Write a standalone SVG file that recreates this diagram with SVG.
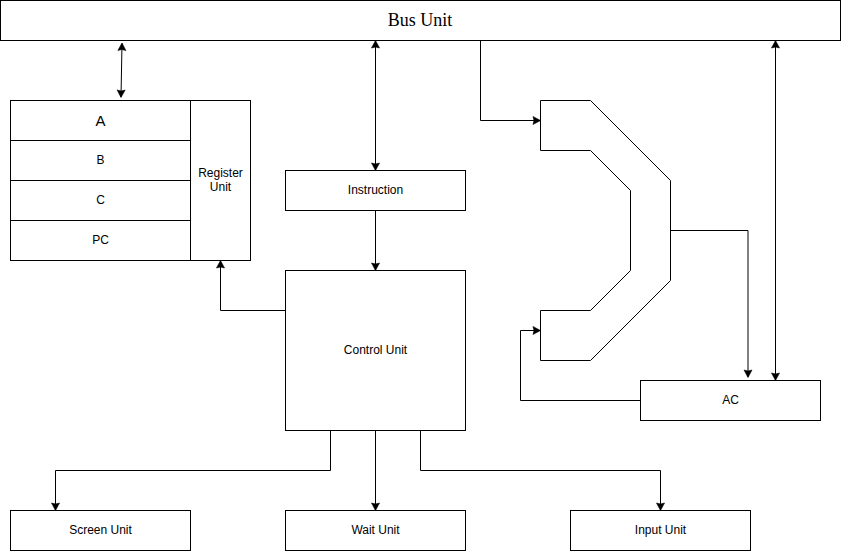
<svg xmlns="http://www.w3.org/2000/svg" width="841" height="551" viewBox="0 0 841 551">
<defs>
<style>
.box{fill:#fff;stroke:#000;stroke-width:1}
.t{font-family:"Liberation Sans",Arial,sans-serif;font-size:12px;fill:#000;text-anchor:middle;dominant-baseline:central}
.e{fill:none;stroke:#000;stroke-width:1}
</style>
<marker id="ah" markerUnits="userSpaceOnUse" viewBox="-10 -6 12 12" refX="0" refY="0" markerWidth="12" markerHeight="12" orient="auto-start-reverse">
<path d="M-7,-4 L0.5,0 L-7,4 L-6,0 Z" fill="#000" stroke="#000" stroke-width="0.6" stroke-linejoin="miter"/>
</marker>
</defs>
<rect width="841" height="551" fill="#fff"/>
<g id="bus"><rect class="box" x="0.5" y="0.5" width="840" height="40"/><text x="420" y="20" style="font-family:'Liberation Serif','Times New Roman',serif;font-size:18px;text-anchor:middle;dominant-baseline:central">Bus Unit</text></g>
<g id="registers">
<rect class="box" x="10.5" y="100.5" width="180" height="40"/><text class="t" x="100.5" y="120.5" style="font-size:15px">A</text>
<rect class="box" x="10.5" y="140.5" width="180" height="40"/><text class="t" x="100.5" y="160">B</text>
<rect class="box" x="10.5" y="180.5" width="180" height="40"/><text class="t" x="100.5" y="200">C</text>
<rect class="box" x="10.5" y="220.5" width="180" height="40"/><text class="t" x="100.5" y="240">PC</text>
</g>
<g id="register-unit"><rect class="box" x="190.5" y="100.5" width="60" height="160"/><text class="t" x="220.5" y="173">Register</text><text class="t" x="220.5" y="187">Unit</text></g>
<g id="instruction"><rect class="box" x="285.5" y="170.5" width="180" height="40"/><text class="t" x="375.5" y="190">Instruction</text></g>
<g id="control"><rect class="box" x="285.5" y="270.5" width="180" height="160"/><text class="t" x="375.5" y="350">Control Unit</text></g>
<g id="alu"><path class="box" d="M540.5,100.5 H590.5 L670.5,180.5 V280.5 L590.5,360.5 H540.5 V310.5 H590.5 L630.5,270.5 V190.5 L590.5,150.5 H540.5 Z"/></g>
<g id="ac"><rect class="box" x="640.5" y="380.5" width="180" height="40"/><text class="t" x="730.5" y="400">AC</text></g>
<g id="screen"><rect class="box" x="10.5" y="510.5" width="180" height="40"/><text class="t" x="100.5" y="530">Screen Unit</text></g>
<g id="wait"><rect class="box" x="285.5" y="510.5" width="180" height="40"/><text class="t" x="375.5" y="530">Wait Unit</text></g>
<g id="input"><rect class="box" x="570.5" y="510.5" width="180" height="40"/><text class="t" x="660.5" y="530">Input Unit</text></g>
<g id="connectors">
<path class="e" d="M122,43.5 L121,97" marker-start="url(#ah)" marker-end="url(#ah)"/>
<path class="e" d="M375.5,41 V170" marker-start="url(#ah)" marker-end="url(#ah)"/>
<path class="e" d="M775.5,41 V380" marker-start="url(#ah)" marker-end="url(#ah)"/>
<path class="e" d="M375.5,210.5 V270" marker-end="url(#ah)"/>
<path class="e" d="M285.5,310.5 H220.5 V261" marker-end="url(#ah)"/>
<path class="e" d="M480.5,40.5 V120.5 H540" marker-end="url(#ah)"/>
<path class="e" d="M670.5,230.5 H748 V377" marker-end="url(#ah)"/>
<path class="e" d="M640.5,400.5 H520.5 V330.5 H540" marker-end="url(#ah)"/>
<path class="e" d="M330.5,430.5 V470.5 H55.5 V510" marker-end="url(#ah)"/>
<path class="e" d="M375.5,430.5 V510" marker-end="url(#ah)"/>
<path class="e" d="M420.5,430.5 V470.5 H660.5 V510" marker-end="url(#ah)"/>
</g>
</svg>
